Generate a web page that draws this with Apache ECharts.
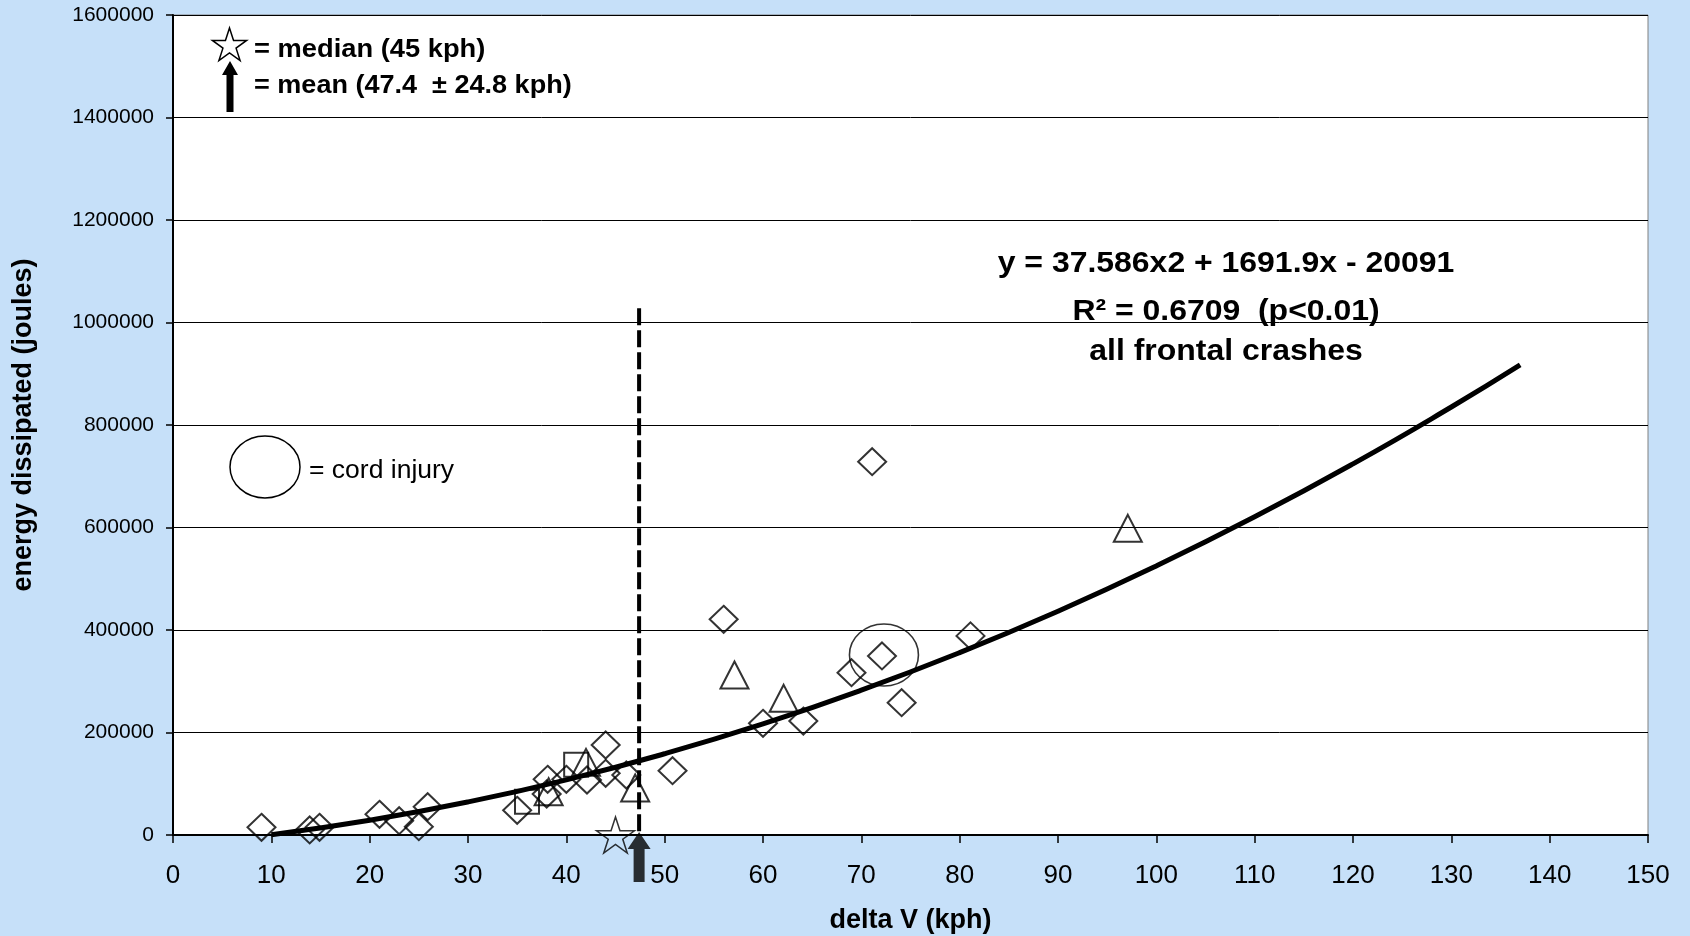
<!DOCTYPE html>
<html>
<head>
<meta charset="utf-8">
<title>energy dissipated vs delta V</title>
<script src="https://cdn.jsdelivr.net/npm/echarts@6/dist/echarts.min.js"></script>
<style>
  html, body { margin: 0; padding: 0; background: #c6e0f9; }
  #chart { width: 1690px; height: 936px; }
</style>
</head>
<body>
<div id="chart"></div>
<script>
// Crash data (delta V in kph, energy in joules)
const diamondX = [9, 13.9, 14.9, 21, 23, 25, 25.9, 35, 38.1, 38, 40, 42.1, 44, 44, 46.1, 50.8, 56, 60, 64.1, 69, 71.1, 72.1, 74.1, 81.1];
const diamondY = [15000, 9800, 15000, 40400, 27900, 16200, 55200, 48200, 108700, 80000, 108700, 107300, 175600, 120400, 117100, 125500, 420900, 218000, 222400, 316700, 728400, 349300, 258100, 388500];

const squareX = [36, 41];
const squareY = [65000, 137200];

const triangleX = [38.2, 42, 47, 57.1, 62.1, 97.1];
const triangleY = [84500, 141800, 91700, 312200, 266700, 598400];

// cord injury case
const cordX = [72.3];
const cordY = [351200];

// quadratic fit line
const fitX = [10, 20, 30, 40, 50, 60, 70, 80, 90, 100, 110, 120, 130, 137];
const fitY = [600, 28800, 64500, 107700, 158500, 216700, 282500, 355800, 436600, 525000, 620800, 724200, 835100, 917200];

// summary stats
const medianV = 45;
const meanV = 47.4;
const meanLineTop = 1028000;

// axis ticks
const xTicks = { min: 0, max: 150, interval: 10 };
const yTicks = { min: 0, max: 1600000, interval: 200000 };

const FONT = '"Liberation Sans", Arial, sans-serif';
const starPath = "path://M50,0 L61.23,34.55 L97.55,34.55 L68.16,55.9 L79.39,90.45 L50,69.1 L20.61,90.45 L31.84,55.9 L2.45,34.55 L38.77,34.55 Z";
const arrowPath = "path://M6,17 L0,17 L11.5,0 L23,17 L17,17 L17,50 L6,50 Z";
const ellipsePath = "path://M0,50 A50,50 0 1,1 100,50 A50,50 0 1,1 0,50 Z";

const zip = (xs, ys) => xs.map((x, i) => [x, ys[i]]);

// outline of a 5 point star for the legend
function starPoints(cx, cy, R, r) {
  const pts = [];
  for (let i = 0; i < 10; i++) {
    const a = -Math.PI / 2 + (i * Math.PI) / 5;
    const rad = i % 2 === 0 ? R : r;
    pts.push([cx + rad * Math.cos(a), cy + rad * Math.sin(a)]);
  }
  return pts;
}

// upward arrow for the legend
function arrowPoints(cx, top, bottom, headW, headH, shaftW) {
  return [
    [cx, top],
    [cx + headW / 2, top + headH],
    [cx + shaftW / 2, top + headH],
    [cx + shaftW / 2, bottom],
    [cx - shaftW / 2, bottom],
    [cx - shaftW / 2, top + headH],
    [cx - headW / 2, top + headH],
  ];
}

const hollow = { color: "rgba(0,0,0,0)", borderColor: "#000", borderWidth: 2 };

const chart = echarts.init(document.getElementById("chart"));

const option = {
  animation: false,
  backgroundColor: "#c6e0f9",
  textStyle: { fontFamily: FONT },
  grid: {
    left: 173,
    right: 42,
    top: 15,
    bottom: 101,
    outerBoundsMode: "none",
    containLabel: false,
    show: true,
    backgroundColor: "#ffffff",
    borderColor: "#808080",
    borderWidth: 1,
  },
  xAxis: {
    type: "value",
    min: xTicks.min,
    max: xTicks.max,
    interval: xTicks.interval,
    name: "delta V (kph)",
    nameLocation: "middle",
    nameGap: 72,
    nameTextStyle: { color: "#000", fontSize: 27, fontWeight: "bold", fontFamily: FONT },
    axisLine: { lineStyle: { color: "#000", width: 2 } },
    axisTick: { show: true, inside: false, length: 8, lineStyle: { color: "#000", width: 1.5 } },
    axisLabel: { color: "#000", fontSize: 26, margin: 28, fontFamily: FONT },
    splitLine: { show: false },
  },
  yAxis: {
    type: "value",
    min: yTicks.min,
    max: yTicks.max,
    interval: yTicks.interval,
    name: "energy dissipated (joules)",
    nameLocation: "middle",
    nameGap: 136,
    nameTextStyle: { color: "#000", fontSize: 27, fontWeight: "bold", fontFamily: FONT },
    axisLine: { show: true, lineStyle: { color: "#000", width: 2 } },
    axisTick: { show: true, inside: false, length: 7, lineStyle: { color: "#000", width: 1.5 } },
    axisLabel: { color: "#000", fontSize: 21, margin: 19, fontFamily: FONT, formatter: (v) => String(v) },
    splitLine: { show: true, lineStyle: { color: "#000", width: 1 } },
  },
  series: [
    {
      name: "diamond",
      type: "scatter",
      symbol: "diamond",
      symbolSize: [28, 27],
      itemStyle: hollow,
      z: 3,
      data: zip(diamondX, diamondY),
    },
    {
      name: "square",
      type: "scatter",
      symbol: "rect",
      symbolSize: [24, 24],
      itemStyle: hollow,
      z: 3,
      data: zip(squareX, squareY),
    },
    {
      name: "triangle",
      type: "scatter",
      symbol: "triangle",
      symbolSize: [28, 27],
      itemStyle: hollow,
      z: 3,
      data: zip(triangleX, triangleY),
    },
    {
      name: "cord injury",
      type: "scatter",
      symbol: ellipsePath,
      symbolKeepAspect: false,
      symbolSize: [69, 62],
      itemStyle: { color: "rgba(0,0,0,0)", borderColor: "#000", borderWidth: 1.5 },
      z: 3,
      data: zip(cordX, cordY),
    },
    {
      // median marker sits on the axis
      name: "median",
      type: "scatter",
      symbol: starPath,
      symbolKeepAspect: false,
      symbolSize: [38, 36],
      clip: false,
      itemStyle: { color: "rgba(0,0,0,0)", borderColor: "#000", borderWidth: 1.5 },
      z: 4,
      data: [[medianV, 0]],
    },
    {
      name: "fit",
      type: "line",
      smooth: true,
      showSymbol: false,
      lineStyle: { color: "#000", width: 5 },
      z: 5,
      data: zip(fitX, fitY),
    },
    {
      name: "mean line",
      type: "line",
      showSymbol: false,
      lineStyle: { color: "#000", width: 4, type: [17, 5] },
      z: 6,
      data: [[meanV, meanLineTop], [meanV, 0]],
    },
    {
      // mean arrow under the axis
      name: "mean",
      type: "scatter",
      symbol: arrowPath,
      symbolKeepAspect: false,
      symbolSize: [23, 50],
      symbolOffset: [0, 22],
      clip: false,
      itemStyle: { color: "#000" },
      z: 6,
      data: [[meanV, 0]],
    },
  ],
  graphic: [
    // legend: median star + mean arrow
    {
      type: "polygon",
      shape: { points: starPoints(229.5, 46, 18, 6.9) },
      style: { fill: "none", stroke: "#000", lineWidth: 1.5 },
    },
    {
      type: "polygon",
      shape: { points: arrowPoints(230, 61, 112, 16, 14, 7) },
      style: { fill: "#000" },
    },
    {
      type: "text",
      x: 254,
      y: 50,
      scaleX: 1.05,
      style: { text: "= median (45 kph)", fill: "#000", font: "bold 26px " + FONT, textVerticalAlign: "middle" },
    },
    {
      type: "text",
      x: 254,
      y: 86,
      scaleX: 1.04,
      style: { text: "= mean (47.4  \u00b1 24.8 kph)", fill: "#000", font: "bold 26px " + FONT, textVerticalAlign: "middle" },
    },
    // legend: cord injury ellipse
    {
      type: "ellipse",
      shape: { cx: 265, cy: 467, rx: 35, ry: 31 },
      style: { fill: "none", stroke: "#000", lineWidth: 1.5 },
    },
    {
      type: "text",
      x: 309,
      y: 471,
      scaleX: 1.06,
      style: { text: "= cord injury", fill: "#000", font: "25px " + FONT, textVerticalAlign: "middle" },
    },
    // regression annotation
    {
      type: "text",
      x: 1226,
      y: 264,
      scaleX: 1.065,
      style: { text: "y = 37.586x2 + 1691.9x - 20091", fill: "#000", font: "bold 30px " + FONT, textAlign: "center", textVerticalAlign: "middle" },
    },
    {
      type: "text",
      x: 1226,
      y: 312,
      scaleX: 1.065,
      style: { text: "R\u00b2 = 0.6709  (p<0.01)", fill: "#000", font: "bold 30px " + FONT, textAlign: "center", textVerticalAlign: "middle" },
    },
    {
      type: "text",
      x: 1226,
      y: 352,
      scaleX: 1.065,
      style: { text: "all frontal crashes", fill: "#000", font: "bold 30px " + FONT, textAlign: "center", textVerticalAlign: "middle" },
    },
  ],
};

chart.setOption(option);

window.addEventListener("resize", () => chart.resize());
</script>
</body>
</html>
